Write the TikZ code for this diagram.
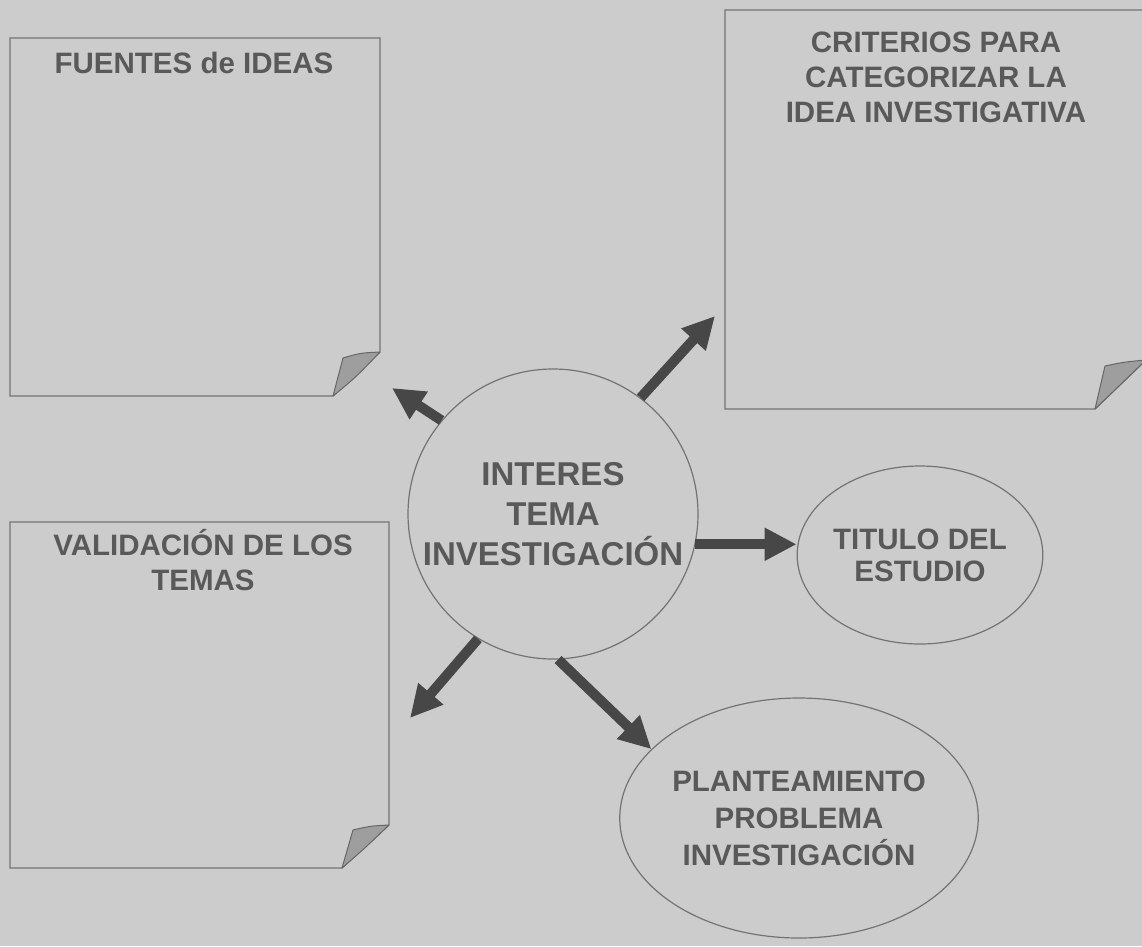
\documentclass[tikz,border=0pt]{standalone}
\usepackage{fontspec}
\setmainfont{Liberation Sans}
\usetikzlibrary{arrows.meta,shapes.geometric}

\tikzset{
  notebox/.style={draw=black!55,fill=black!20,line width=1.2pt},
  notefold/.style={draw=black!60,fill=black!38,line width=1pt,line join=round},
  notetitle/.style={text=black!65,align=center,inner sep=0pt,
    font=\fontsize{29.5}{35}\selectfont\bfseries},
  bubble/.style={draw=black!55,line width=1.2pt,inner sep=0pt,
    text=black!65,align=center},
  bigarrow/.style={draw=black!72,line width=10pt,
    -{Triangle[length=32pt,width=31pt]}},
}

\begin{document}
\begin{tikzpicture}[x=1pt,y=-1pt]
  \useasboundingbox (0,0) rectangle (1142,946);
  \clip (0,0) rectangle (1142,946);
  \fill[black!20] (0,0) rectangle (1142,946);

  % notas (hojas con esquina doblada)
  \draw[notebox] (10,38) -- (380,38) -- (380,352) -- (333,396) -- (10,396) -- cycle;
  \draw[notefold] (380,352) .. controls (360,353) .. (343,358) -- (333,396)
    .. controls (355,378) .. (380,352);
  \node[notetitle] (fuentes) at (194,63) {FUENTES de IDEAS};

  \draw[notebox] (725,10) -- (1146,10) -- (1146,360) -- (1095,409) -- (725,409) -- cycle;
  \draw[notefold] (1146,360) .. controls (1124,362) .. (1105,366) -- (1095,409)
    .. controls (1120,385) .. (1146,360);
  \node[notetitle] (criterios) at (936,77)
    {CRITERIOS PARA\\CATEGORIZAR LA\\IDEA INVESTIGATIVA};

  \draw[notebox] (10,522) -- (389,522) -- (389,825) -- (342,868) -- (10,868) -- cycle;
  \draw[notefold] (389,825) .. controls (370,826) .. (353,830) -- (342,868)
    .. controls (365,848) .. (389,825);
  \node[notetitle] (validacion) at (203,560) {VALIDACIÓN DE LOS\\TEMAS};

  % centro y elipses
  \node[bubble,circle,minimum size=290pt,
    font=\fontsize{33}{40}\selectfont\bfseries] (tema) at (553,514)
    {INTERES\\TEMA\\INVESTIGACIÓN};
  \node[bubble,ellipse,minimum width=243pt,minimum height=178pt,
    font=\fontsize{29.5}{32}\selectfont\bfseries] (titulo) at (920,555)
    {TITULO DEL\\ESTUDIO};
  \node[bubble,ellipse,minimum width=358pt,minimum height=240pt,
    font=\fontsize{29.5}{37}\selectfont\bfseries] (plant) at (799,818)
    {PLANTEAMIENTO\\PROBLEMA\\INVESTIGACIÓN};

  % puntas libres
  \coordinate (tipF) at (392,388);
  \coordinate (tipC) at (715,316);
  \coordinate (tipV) at (410,718);

  \draw[bigarrow] (tema.140) -- (tipF);
  \draw[bigarrow] (tema.53) -- (tipC);
  \draw[bigarrow] (tema.-12) -- (tema.-12 -| titulo.west);
  \draw[bigarrow] (tema.-121) -- (tipV);
  \draw[bigarrow] (tema.-88) -- (plant.155);
\end{tikzpicture}
\end{document}
